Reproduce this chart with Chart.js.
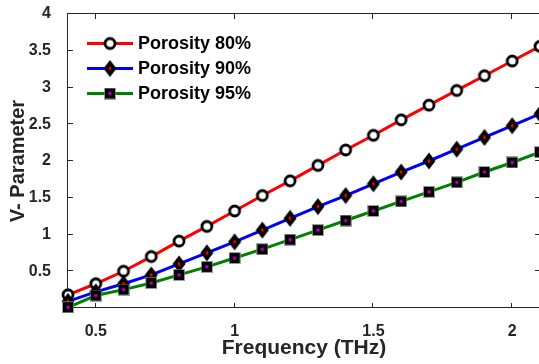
<!DOCTYPE html>
<html>
<head>
<meta charset="utf-8">
<script src="https://cdn.jsdelivr.net/npm/chart.js@4/dist/chart.umd.min.js"></script>
<style>
  html, body { margin: 0; padding: 0; background: #fff; overflow: hidden; }
  canvas { display: block; }
</style>
</head>
<body>
<canvas id="chart" width="540" height="364"></canvas>
<script>
// frequency samples (THz)
const freq = [0.4, 0.5, 0.6, 0.7, 0.8, 0.9, 1.0, 1.1, 1.2, 1.3, 1.4, 1.5, 1.6, 1.7, 1.8, 1.9, 2.0, 2.1];
// V-parameter per porosity
const porosity80 = [0.18, 0.33, 0.50, 0.70, 0.91, 1.11, 1.32, 1.53, 1.73, 1.94, 2.15, 2.35, 2.56, 2.76, 2.96, 3.16, 3.36, 3.56];
const porosity90 = [0.09, 0.22, 0.33, 0.45, 0.60, 0.75, 0.90, 1.06, 1.22, 1.38, 1.53, 1.69, 1.85, 2.00, 2.16, 2.32, 2.48, 2.64];
const porosity95 = [0.01, 0.17, 0.25, 0.34, 0.45, 0.56, 0.68, 0.80, 0.93, 1.06, 1.19, 1.32, 1.45, 1.58, 1.71, 1.85, 1.98, 2.12];
const seriesNames = ['Porosity 80%', 'Porosity 90%', 'Porosity 95%'];
const xTicks = [0.5, 1, 1.5, 2];
const yTicks = [0, 0.5, 1, 1.5, 2, 2.5, 3, 3.5, 4];

const AXIS = '#262626';
const FONT = "'Liberation Sans', Arial, sans-serif";

// marker bitmaps
function circleMarker() {
  const c = document.createElement('canvas');
  c.width = 16; c.height = 16;
  const g = c.getContext('2d');
  g.beginPath();
  g.arc(8, 8, 5, 0, 2 * Math.PI);
  g.fillStyle = '#fff';
  g.fill();
  g.lineWidth = 2.8;
  g.strokeStyle = '#000';
  g.stroke();
  return c;
}

function diamondMarker() {
  const c = document.createElement('canvas');
  c.width = 14; c.height = 18;
  const g = c.getContext('2d');
  g.beginPath();
  g.moveTo(7, 0.5); g.lineTo(13.5, 9); g.lineTo(7, 17.5); g.lineTo(0.5, 9);
  g.closePath();
  g.fillStyle = '#000';
  g.fill();
  g.beginPath();
  g.moveTo(7, 6.5); g.lineTo(8.6, 9); g.lineTo(7, 11.5); g.lineTo(5.4, 9);
  g.closePath();
  g.fillStyle = '#ff0000';
  g.fill();
  return c;
}

function squareMarker() {
  const c = document.createElement('canvas');
  c.width = 12; c.height = 12;
  const g = c.getContext('2d');
  g.fillStyle = 'rgba(120,120,120,0.7)';
  g.fillRect(0, 0, 12, 12);
  g.fillStyle = '#000';
  g.fillRect(1, 1, 10, 10);
  g.fillStyle = '#cc00cc';
  g.fillRect(4.5, 4.5, 3, 3);
  return c;
}

const markers = [circleMarker(), diamondMarker(), squareMarker()];
const colors = ['#ff0000', '#0000ff', '#008000'];

function toPoints(ys) {
  return freq.map(function(x, i) { return { x: x, y: ys[i] }; });
}

// box around the axes with inward ticks on all four sides
const boxPlugin = {
  id: 'boxTicks',
  beforeDatasetsDraw(chart) {
    const ctx = chart.ctx;
    const a = chart.chartArea;
    const xs = chart.scales.x, ys = chart.scales.y;
    const tl = 5;
    ctx.save();
    ctx.strokeStyle = AXIS;
    ctx.lineWidth = 1;
    ctx.strokeRect(Math.round(a.left) - 0.5, Math.round(a.top) - 0.5, Math.round(a.right - a.left), Math.round(a.bottom - a.top));
    ctx.beginPath();
    xTicks.forEach(function(v) {
      const px = Math.round(xs.getPixelForValue(v)) - 0.5;
      ctx.moveTo(px, a.bottom); ctx.lineTo(px, a.bottom - tl);
      ctx.moveTo(px, a.top); ctx.lineTo(px, a.top + tl);
    });
    yTicks.forEach(function(v) {
      const py = Math.round(ys.getPixelForValue(v)) - 0.5;
      ctx.moveTo(a.left, py); ctx.lineTo(a.left + tl, py);
      ctx.moveTo(a.right, py); ctx.lineTo(a.right - tl, py);
    });
    ctx.stroke();
    ctx.restore();
  }
};

// legend inside the upper-left corner of the plot
const legendPlugin = {
  id: 'innerLegend',
  afterDraw(chart) {
    const ctx = chart.ctx;
    const a = chart.chartArea;
    ctx.save();
    ctx.font = 'bold 18px ' + FONT;
    ctx.textBaseline = 'middle';
    ctx.fillStyle = '#000';
    seriesNames.forEach(function(name, i) {
      const y = a.top + 29.5 + i * 25;
      const x0 = a.left + 19;
      ctx.strokeStyle = colors[i];
      ctx.lineWidth = 3;
      ctx.beginPath();
      ctx.moveTo(x0, y); ctx.lineTo(x0 + 46, y);
      ctx.stroke();
      const m = markers[i];
      ctx.drawImage(m, x0 + 23 - m.width / 2, y - m.height / 2);
      ctx.fillText(name, x0 + 51, y + 1);
    });
    ctx.restore();
  }
};

const datasets = [porosity80, porosity90, porosity95].map(function(ys, i) {
  return {
    label: seriesNames[i],
    data: toPoints(ys),
    borderColor: colors[i],
    backgroundColor: colors[i],
    borderWidth: 3,
    pointStyle: markers[i],
    pointRadius: 6,
    pointHoverRadius: 6,
    tension: 0,
    clip: false,
    order: 2 - i
  };
});

new Chart(document.getElementById('chart'), {
  type: 'line',
  data: { datasets: datasets },
  plugins: [boxPlugin, legendPlugin],
  options: {
    responsive: false,
    animation: false,
    layout: { autoPadding: false, padding: { top: 14, right: 0, left: 0, bottom: 0 } },
    plugins: { legend: { display: false }, tooltip: { enabled: false } },
    scales: {
      x: {
        type: 'linear',
        min: 0.4,
        max: 2.1,
        grid: { display: false },
        border: { display: false },
        afterBuildTicks: function(scale) {
          scale.ticks = xTicks.map(function(v) { return { value: v }; });
        },
        afterFit: function(scale) {
          scale.height = 56;
          scale.paddingLeft = 0;
          scale.paddingRight = 0;
        },
        ticks: {
          padding: 6,
          maxRotation: 0,
          color: AXIS,
          font: { family: FONT, size: 16, weight: 'bold' },
          callback: function(v) { return String(v); }
        },
        title: {
          display: true,
          text: 'Frequency (THz)',
          color: AXIS,
          padding: { top: 0, bottom: 3 },
          font: { family: FONT, size: 21, weight: 'bold' }
        }
      },
      y: {
        min: 0,
        max: 4,
        grid: { display: false },
        border: { display: false },
        afterBuildTicks: function(scale) {
          scale.ticks = yTicks.map(function(v) { return { value: v }; });
        },
        afterFit: function(scale) {
          scale.width = 68;
          scale.paddingTop = 0;
          scale.paddingBottom = 0;
        },
        ticks: {
          padding: 9,
          color: AXIS,
          font: { family: FONT, size: 16, weight: 'bold' },
          callback: function(v) { return v === 0 ? '' : String(v); }
        },
        title: {
          display: true,
          text: 'V- Parameter',
          color: AXIS,
          padding: { top: 6, bottom: 0 },
          font: { family: FONT, size: 20, weight: 'bold' }
        }
      }
    }
  }
});
</script>
</body>
</html>
